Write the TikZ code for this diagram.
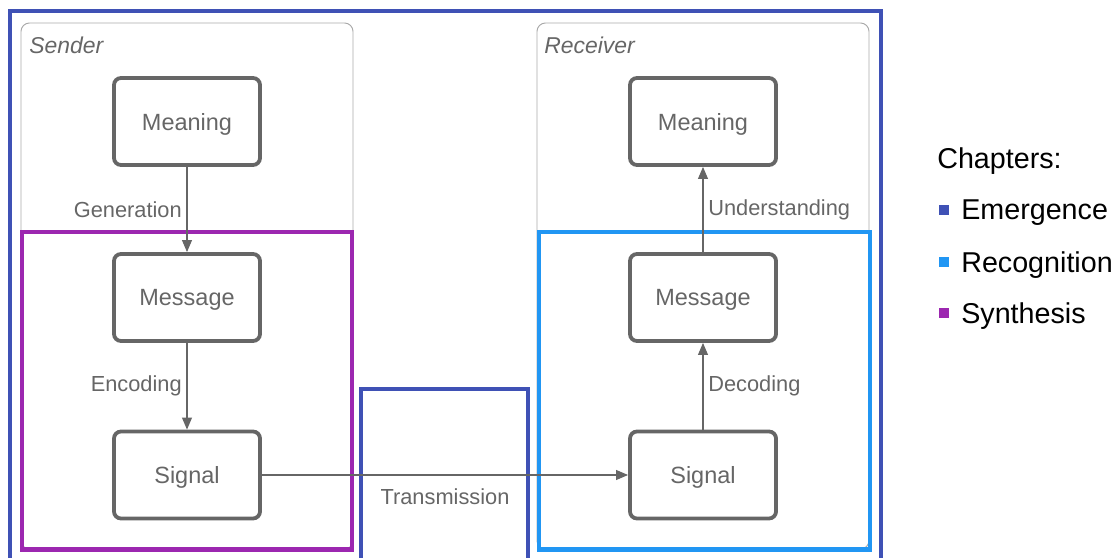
\documentclass[tikz,border=0pt]{standalone}
\usepackage{fontspec}
\setmainfont{Liberation Sans}
\usepackage{xcolor}
\usetikzlibrary{arrows.meta}

\definecolor{emergence}{HTML}{3F51B5}
\definecolor{recognition}{HTML}{2196F3}
\definecolor{synthesis}{HTML}{9C27B0}
\definecolor{boxgrey}{HTML}{666666}
\definecolor{areagrey}{HTML}{AAAAAA}

\tikzset{
    area/.style={draw=areagrey, line width=0.7pt, rounded corners=6pt},
    arealabel/.style={anchor=west, inner sep=0pt, text=boxgrey,
        font=\fontsize{16.3}{19}\selectfont\itshape},
    chapterframe/.style={draw=#1, line width=2.85pt},
    stage/.style={draw=boxgrey, line width=2.7pt, rounded corners=5pt,
        minimum width=3.65cm, minimum height=2.175cm, text=boxgrey,
        text depth=0pt, font=\fontsize{16.7}{20}\selectfont},
    flow/.style={draw=boxgrey, line width=0.9pt,
        -{Triangle[length=8.5pt, width=7pt]}},
    flowlabel/.style={text=boxgrey, font=\fontsize{15.5}{18}\selectfont},
    legendtext/.style={anchor=west, inner sep=0pt, text depth=0pt,
        font=\fontsize{20.4}{24}\selectfont},
    chapterkey/.style={fill=#1, minimum size=0.23cm, inner sep=0pt},
}

\begin{document}
\begin{tikzpicture}[x=0.025cm, y=-0.025cm]
        \useasboundingbox (0,0) rectangle (1120,558);
        \clip (0,0) rectangle (1120,558);

        % The sender and receiver areas
        \draw[area] (21,23) rectangle (353,549);
        \draw[area] (537,23) rectangle (869,549);
        \node[arealabel] (senderlabel) at (29,45) {Sender};
        \node[arealabel] (receiverlabel) at (544,45) {Receiver};

        % The chapter frames
        \draw[chapterframe=synthesis] (22,232) rectangle (352,549.5);
        \draw[chapterframe=recognition] (539,232) rectangle (870,549.5);
        \draw[chapterframe=emergence] (10,575) -- (10,11) -- (881,11) -- (881,575);
        \draw[chapterframe=emergence] (361,575) -- (361,389) -- (528,389) -- (528,575);

        % The stages on the sender side
        \node[stage] (sMeaning) at (187,121.5) {Meaning};
        \node[stage] (sMessage) at (187,297.5) {Message};
        \node[stage] (sSignal) at (187,475) {Signal};

        % The stages on the receiver side
        \node[stage] (rMeaning) at (703,121.5) {Meaning};
        \node[stage] (rMessage) at (703,297.5) {Message};
        \node[stage] (rSignal) at (703,475) {Signal};

        % The edges
        \draw[flow] (sMeaning) -- node[flowlabel, left] {Generation} (sMessage);
        \draw[flow] (sMessage) -- node[flowlabel, left] {Encoding} (sSignal);
        \draw[flow] (sSignal) -- node[flowlabel, below=6pt] {Transmission} (rSignal);
        \draw[flow] (rSignal) -- node[flowlabel, right] {Decoding} (rMessage);
        \draw[flow] (rMessage) -- node[flowlabel, right] {Understanding} (rMeaning);

        % The legend
        \node[legendtext] (chapters) at (937,158) {Chapters:};
        \node[chapterkey=emergence] (kEmergence) at (944,210) {};
        \node[chapterkey=recognition] (kRecognition) at (944,262) {};
        \node[chapterkey=synthesis] (kSynthesis) at (944,313) {};
        \node[legendtext] at (961,210) {Emergence};
        \node[legendtext] at (961,262) {Recognition};
        \node[legendtext] at (961,313) {Synthesis};

\end{tikzpicture}
\end{document}
